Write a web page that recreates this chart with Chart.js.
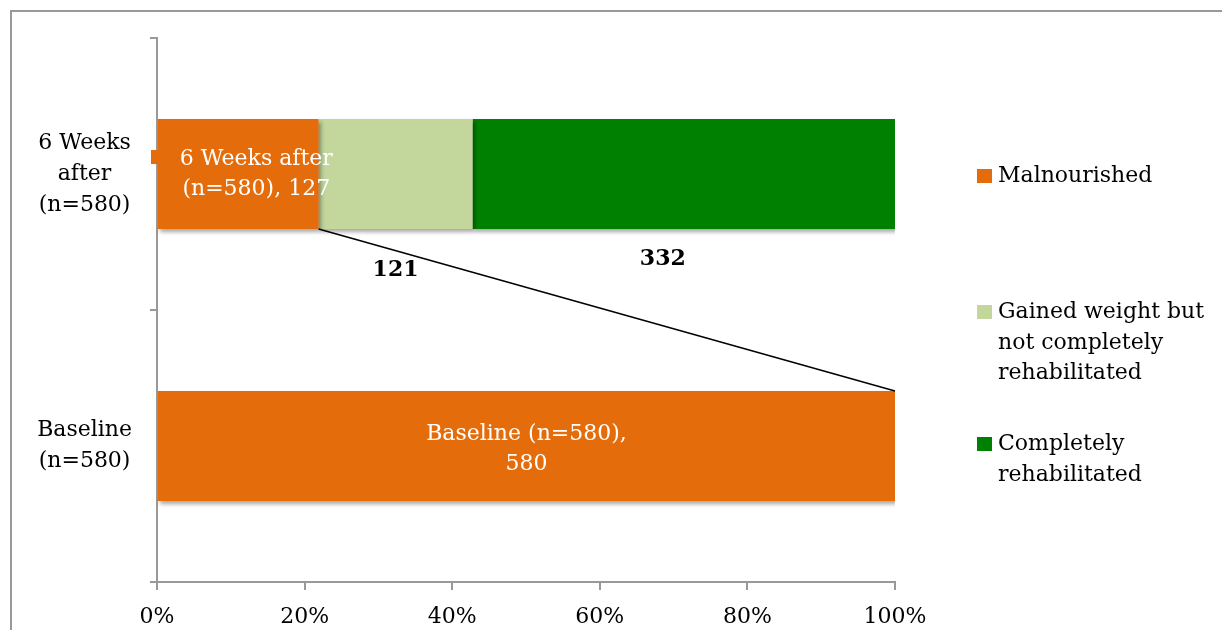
<!DOCTYPE html>
<html>
<head>
<meta charset="utf-8">
<script src="https://cdn.jsdelivr.net/npm/chart.js@4.4.1/dist/chart.umd.min.js"></script>
<style>
  html, body { margin: 0; padding: 0; background: #fff; overflow: hidden; }
  #frame { position: absolute; left: 10px; top: 10px; width: 1212px; height: 620px; border-left: 2px solid #999; border-top: 2px solid #999; box-sizing: border-box; }
  #wrap { position: absolute; left: 0; top: 0; width: 1222px; height: 630px; }
</style>
</head>
<body>
<div id="frame"></div>
<div id="wrap"><canvas id="myChart" width="1222" height="630"></canvas></div>
<script>
// dữ liệu
const categories = [['6 Weeks', 'after', '(n=580)'], ['Baseline', '(n=580)']];
const seriesNames = ['Malnourished', 'Gained weight but not completely rehabilitated', 'Completely rehabilitated'];
const legendLines = [['Malnourished'], ['Gained weight but', 'not completely', 'rehabilitated'], ['Completely', 'rehabilitated']];
const malnourished = [127, 580];
const gainedWeight = [121, 0];
const rehabilitated = [332, 0];
const xTicks = [0, 20, 40, 60, 80, 100];
const colors = ['#E46C0A', '#C3D69B', '#008000'];

const malLabels = [['6 Weeks after', '(n=580), ' + malnourished[0]], ['Baseline (n=580),', '' + malnourished[1]]];

const totals = malnourished.map((v, i) => v + gainedWeight[i] + rehabilitated[i]);
const toPct = arr => arr.map((v, i) => v / totals[i] * 100);
const series = [malnourished, gainedWeight, rehabilitated];

const fontFamily = '"DejaVu Serif", serif';

const extras = {
  id: 'extras',
  beforeDatasetDraw(chart) {
    const ctx = chart.ctx;
    ctx.save();
    ctx.shadowColor = 'rgba(0,0,0,0.35)';
    ctx.shadowBlur = 4;
    ctx.shadowOffsetX = 2;
    ctx.shadowOffsetY = 3;
  },
  afterDatasetDraw(chart) {
    chart.ctx.restore();
  },
  afterDatasetsDraw(chart) {
    const ctx = chart.ctx;
    const mal = chart.getDatasetMeta(0).data;
    const top = mal[0], bot = mal[1];

    // đường nối giữa hai cột
    ctx.save();
    ctx.strokeStyle = '#000';
    ctx.lineWidth = 1.5;
    ctx.beginPath();
    ctx.moveTo(top.x, top.y + top.height / 2);
    ctx.lineTo(bot.x, bot.y - bot.height / 2);
    ctx.stroke();

    // ô vuông nhỏ bên trái
    ctx.fillStyle = colors[0];
    ctx.fillRect(top.base - 7, top.y - 24, 7, 14);

    // nhãn trong cột cam
    ctx.fillStyle = '#fff';
    ctx.font = '22px ' + fontFamily;
    ctx.textAlign = 'center';
    ctx.textBaseline = 'middle';
    const offs = [[18, 0], [0, 3]];
    mal.forEach((bar, i) => {
      const cx = (bar.x + bar.base) / 2 + offs[i][0];
      const lines = malLabels[i];
      lines.forEach((t, j) => {
        ctx.fillText(t, cx, bar.y + offs[i][1] + (j - (lines.length - 1) / 2) * 30);
      });
    });

    // nhãn đậm bên dưới
    ctx.fillStyle = '#000';
    ctx.font = 'bold 22px ' + fontFamily;
    const below = [[1, 0, 41], [2, -21, 30]];
    below.forEach(([ds, dx, dy]) => {
      const bar = chart.getDatasetMeta(ds).data[0];
      ctx.fillText('' + series[ds][0], (bar.x + bar.base) / 2 + dx, bar.y + bar.height / 2 + dy);
    });
    ctx.restore();
  },
  afterDraw(chart) {
    // chú thích
    const ctx = chart.ctx;
    ctx.save();
    ctx.font = '22px ' + fontFamily;
    ctx.textAlign = 'left';
    ctx.textBaseline = 'middle';
    const itemY = [176, 312, 444];
    legendLines.forEach((lines, i) => {
      ctx.fillStyle = colors[i];
      ctx.fillRect(977, itemY[i] - 7, 15, 14);
      ctx.fillStyle = '#000';
      lines.forEach((t, j) => ctx.fillText(t, 998, itemY[i] + j * 30.8));
    });
    ctx.restore();
  }
};

const ctx = document.getElementById('myChart').getContext('2d');
const myChart = new Chart(ctx, {
  type: 'bar',
  data: {
    labels: categories,
    datasets: series.map((arr, i) => ({
      label: seriesNames[i],
      data: toPct(arr),
      backgroundColor: colors[i],
      borderWidth: 0,
      barPercentage: 0.405,
      categoryPercentage: 1
    }))
  },
  options: {
    indexAxis: 'y',
    responsive: false,
    animation: false,
    layout: { padding: { top: 38, right: 327, left: 0, bottom: 0 } },
    plugins: {
      legend: { display: false },
      tooltip: { enabled: false }
    },
    scales: {
      x: {
        stacked: true,
        min: 0,
        max: 100,
        afterBuildTicks: scale => { scale.ticks = xTicks.map(v => ({ value: v })); },
        afterFit: scale => { scale.height = 48; },
        ticks: {
          color: '#000',
          font: { family: fontFamily, size: 22 },
          padding: 14,
          callback: v => v + '%'
        },
        grid: { drawOnChartArea: false, drawTicks: true, tickLength: 8, color: '#999', lineWidth: 2 },
        border: { color: '#999', width: 2 }
      },
      y: {
        stacked: true,
        afterFit: scale => { scale.width = 157; scale.paddingTop = 0; scale.paddingBottom = 0; },
        ticks: {
          color: '#000',
          crossAlign: 'center',
          padding: 18,
          font: { family: fontFamily, size: 22, lineHeight: 1.4 }
        },
        grid: { offset: true, drawOnChartArea: false, drawTicks: true, tickLength: 7, color: '#999', lineWidth: 2 },
        border: { color: '#999', width: 2 }
      }
    }
  },
  plugins: [extras]
});
</script>
</body>
</html>
